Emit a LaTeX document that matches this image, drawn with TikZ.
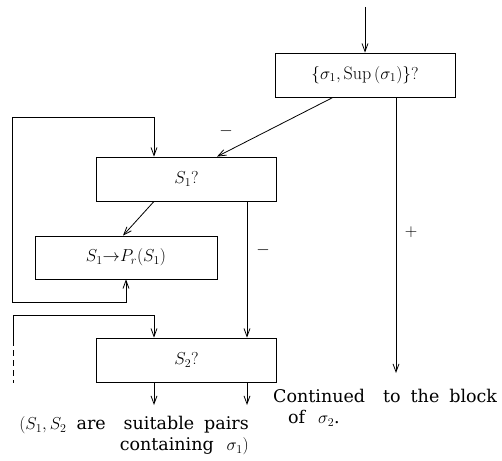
\documentclass[tikz,border=0pt]{standalone}
\usepackage{amsmath,amssymb}
\usepackage{fontspec}
\newfontfamily\notefont{DejaVu Serif}
\newcommand\widesp{\setlength{\spaceskip}{10pt}}
\usepackage{xcolor}
\usepackage{tikz}
\usetikzlibrary{arrows.meta,positioning,calc}
\tikzset{
  box/.style={draw,line width=0.8pt,minimum width=180pt,minimum height=44pt,inner sep=0pt,font=\fontsize{18}{20}\selectfont},
  lbl/.style={inner sep=0pt,font=\fontsize{18}{22}\selectfont},
  note/.style={inner sep=0pt,font=\notefont\fontsize{17.5}{21}\selectfont\widesp},
  ln/.style={line width=0.8pt},
  arr/.style={line width=0.8pt,-{Straight Barb[length=8pt,width=6pt]}},
  arrb/.style={line width=0.8pt,{Straight Barb[length=8pt,width=6pt]}-{Straight Barb[length=8pt,width=6pt]}},
}

\begin{document}
\begin{tikzpicture}[x=1pt,y=-1pt]
  \useasboundingbox (0,0) rectangle (502,460);
  % blocks
  \node[box] (A)  at (365,75)    {$\{\sigma_1,\mathrm{Sup}\,(\sigma_1)\}?$};
  \node[box] (S1) at (186.5,179) {$S_1?$};
  \node[box,minimum width=182pt,minimum height=43pt] (P) at (126,257.5) {$S_1{\rightarrow}P_r(S_1)$};
  \node[box] (S2) at (186.5,360) {$S_2?$};
  % free ends
  \coordinate (in)  at (365,7);
  \coordinate (out) at (396,373);
  \coordinate (l1a) at (12,302);
  \coordinate (l1b) at (12,117);
  \coordinate (l2a) at (13,315);
  \coordinate (l2m) at (13,340);
  \coordinate (l2b) at (13,383);
  \coordinate (o1)  at (154,405);
  \coordinate (o2)  at (247,405);
  % connectors
  \draw[arr] (in) -- (A);
  \draw[arr] ([xshift=-32pt]A.south) -- ([xshift=30.5pt]S1.north);
  \draw[arr] ([xshift=31pt]A.south) -- (out);
  \draw[arr] ([xshift=-32.5pt]S1.south) -- ([xshift=-3pt]P.north);
  \draw[arrb] (P.south) |- (l1a) -- (l1b) -| ([xshift=-32.5pt]S1.north);
  \draw[arr] ([xshift=60.5pt]S1.south) -- ([xshift=60.5pt]S2.north);
  \draw[arr] (l2a) -| ([xshift=-32.5pt]S2.north);
  \draw[ln] (l2a) -- (l2m);
  \draw[ln,dash pattern=on 6pt off 4pt] (l2m) -- (l2b);
  \draw[arr] ([xshift=-32.5pt]S2.south) -- (o1);
  \draw[arr] ([xshift=60.5pt]S2.south) -- (o2);
  % signs and notes
  \node[lbl] (m1) at (226,131) {$-$};
  \node[lbl] (m2) at (263,250) {$-$};
  \node[lbl] (p1) at (411,232) {$+$};
  \node[note,align=right,anchor=north east] (n1) at (249,416)
    {$(S_1,S_2$ are\hspace{18pt}suitable pairs\\containing \,$\sigma_1)$};
  \node[note,align=left,anchor=north west] (n2) at (273,389)
    {Continued\hspace{18pt}to the block\\\hspace*{15pt}of \,$\sigma_2$.};
\end{tikzpicture}
\end{document}
